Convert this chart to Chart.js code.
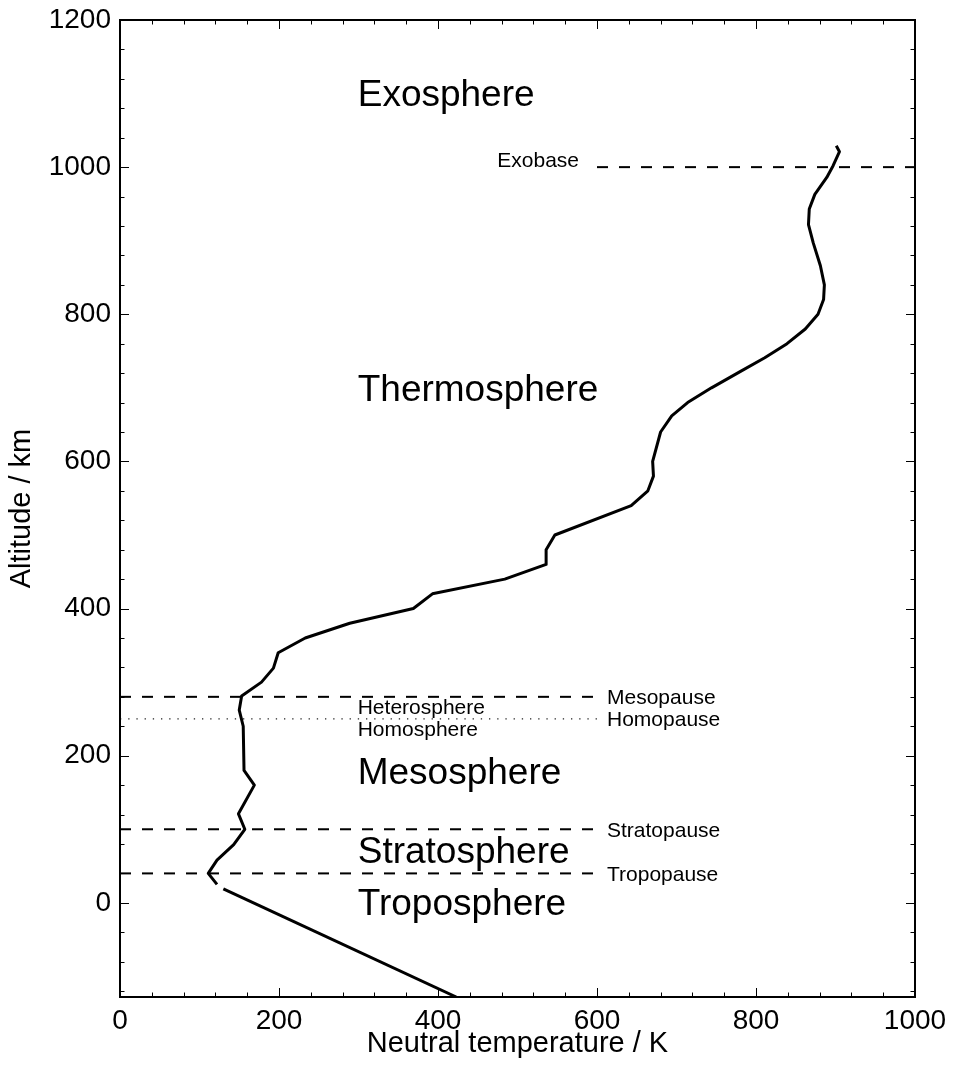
<!DOCTYPE html>
<html>
<head>
<meta charset="utf-8">
<title>Neutral temperature profile</title>
<script src="https://cdn.jsdelivr.net/npm/chart.js@4/dist/chart.umd.min.js"></script>
<style>
  html, body { margin: 0; padding: 0; background: #ffffff; }
  #wrap { width: 953px; height: 1066px; position: relative; }
</style>
</head>
<body>
<div id="wrap"><canvas id="chart" width="953" height="1066"></canvas></div>
<script>
// Temperature profile above the lower atmosphere (K, km)
const profileTemp = [122, 111, 122, 143, 157, 149, 169, 156, 155, 150, 153, 178, 193, 199, 233, 289, 369, 393, 484, 536, 536, 547, 643, 664, 671, 670, 680, 694, 714, 744, 780, 811, 839, 862, 878, 885, 886, 881, 872, 866, 867, 874, 889, 897, 905, 901];
const profileAlt  = [25, 40, 58, 79, 100, 121, 160, 180, 240, 262, 281, 300, 319, 340, 360, 380, 400, 420, 440, 460, 480, 500, 540, 560, 580, 600, 640, 662, 680, 700, 722, 741, 760, 780, 800, 820, 840, 866, 897, 922, 943, 963, 986, 1002, 1021, 1029];

// Tropospheric lapse-rate segment (K, km)
const troposphereTemp = [130, 423];
const troposphereAlt  = [19, -128];

// Named boundaries: altitude and temperature extent of each marker line
const boundaryNames = ['Exobase', 'Mesopause', 'Homopause', 'Stratopause', 'Tropopause'];
const boundaryAlt   = [1000, 280, 250, 100, 40];
const boundaryFrom  = [600, 0, 0, 0, 0];
const boundaryTo    = [1000, 600, 600, 600, 600];

// Region names
const layerNames = ['Exosphere', 'Thermosphere', 'Mesosphere', 'Stratosphere', 'Troposphere'];
const sphereNames = ['Heterosphere', 'Homosphere'];

// Axis tick values
const tempTicks = [0, 200, 400, 600, 800, 1000];
const altTicks  = [0, 200, 400, 600, 800, 1000, 1200];

const FONT = '"Liberation Sans", Arial, Helvetica, sans-serif';
Chart.defaults.font.family = FONT;
Chart.defaults.color = '#000';

const toPoints = (xs, ys) => xs.map((x, i) => ({ x: x, y: ys[i] }));

// Text placement (data coordinates of the text anchor)
const layerPlacement = {
  Exosphere:    { x: 299, y: 1083 },
  Thermosphere: { x: 299, y: 682 },
  Mesosphere:   { x: 299, y: 162 },
  Stratosphere: { x: 299, y: 54 },
  Troposphere:  { x: 299, y: -16 }
};
const spherePlacement = {
  Heterosphere: { x: 299, y: 257 },
  Homosphere:   { x: 299, y: 227 }
};

const boundaryStyle = {
  Exobase:     { dash: [11, 11], width: 2, color: '#000' },
  Mesopause:   { dash: [11, 11], width: 2, color: '#000' },
  Homopause:   { dash: [1.3, 6.9], width: 1.3, color: '#222' },
  Stratopause: { dash: [11, 11], width: 2, color: '#000' },
  Tropopause:  { dash: [11, 11], width: 2, color: '#000' }
};

const datasets = [
  {
    label: 'profile',
    data: toPoints(profileTemp, profileAlt),
    borderColor: '#000', borderWidth: 3, pointRadius: 0, tension: 0,
    borderJoinStyle: 'round', borderCapStyle: 'butt'
  },
  {
    label: 'troposphere',
    data: toPoints(troposphereTemp, troposphereAlt),
    borderColor: '#000', borderWidth: 3, pointRadius: 0, tension: 0
  }
];
boundaryNames.forEach((name, i) => {
  const st = boundaryStyle[name];
  datasets.push({
    label: name,
    data: [{ x: boundaryFrom[i], y: boundaryAlt[i] }, { x: boundaryTo[i], y: boundaryAlt[i] }],
    borderColor: st.color, borderWidth: st.width, borderDash: st.dash,
    pointRadius: 0, tension: 0
  });
});

// Frame with inward major/minor ticks on all four sides, and region labels
const framePlugin = {
  id: 'frame',
  afterDatasetsDraw(chart) {
    const { ctx, chartArea: a, scales: { x, y } } = chart;
    ctx.save();
    ctx.strokeStyle = '#000';
    ctx.lineWidth = 1;
    ctx.beginPath();
    for (let v = -120; v <= 1200; v += 40) {
      const py = Math.round(y.getPixelForValue(v)) + 0.5;
      const len = (v % 200 === 0) ? 9 : 4.5;
      ctx.moveTo(a.left, py); ctx.lineTo(a.left + len, py);
      ctx.moveTo(a.right, py); ctx.lineTo(a.right - len, py);
    }
    for (let v = 40; v < 1000; v += 40) {
      const px = Math.round(x.getPixelForValue(v)) + 0.5;
      const len = (v % 200 === 0) ? 9 : 4.5;
      ctx.moveTo(px, a.bottom); ctx.lineTo(px, a.bottom - len);
      ctx.moveTo(px, a.top); ctx.lineTo(px, a.top + len);
    }
    ctx.stroke();
    ctx.lineWidth = 2;
    ctx.strokeRect(a.left, a.top, a.right - a.left, a.bottom - a.top);

    ctx.fillStyle = '#000';
    ctx.textAlign = 'left';
    ctx.textBaseline = 'alphabetic';
    ctx.font = '37px ' + FONT;
    layerNames.forEach(n => {
      const p = layerPlacement[n];
      ctx.fillText(n, x.getPixelForValue(p.x), y.getPixelForValue(p.y));
    });
    ctx.font = '21px ' + FONT;
    sphereNames.forEach(n => {
      const p = spherePlacement[n];
      ctx.fillText(n, x.getPixelForValue(p.x), y.getPixelForValue(p.y));
    });
    boundaryNames.forEach((n, i) => {
      if (n === 'Exobase') {
        ctx.textAlign = 'right';
        ctx.fillText(n, x.getPixelForValue(boundaryFrom[i]) - 18, y.getPixelForValue(boundaryAlt[i]));
      } else {
        ctx.textAlign = 'left';
        ctx.fillText(n, x.getPixelForValue(boundaryTo[i]) + 10, y.getPixelForValue(boundaryAlt[i]) + 7.5);
      }
    });
    ctx.restore();
  }
};

const plainNumber = v => String(v);

new Chart(document.getElementById('chart'), {
  type: 'line',
  data: { datasets },
  options: {
    responsive: false,
    animation: false,
    events: [],
    layout: { padding: { top: 20, right: 38, left: 0, bottom: 0 } },
    plugins: { legend: { display: false }, tooltip: { enabled: false } },
    scales: {
      x: {
        type: 'linear', min: 0, max: 1000,
        afterBuildTicks: s => { s.ticks = tempTicks.map(v => ({ value: v })); },
        afterFit: s => { s.height = 69; s.paddingLeft = 0; s.paddingRight = 0; },
        ticks: { font: { size: 28 }, color: '#000', padding: 7, maxRotation: 0, callback: plainNumber },
        grid: { drawOnChartArea: false, drawTicks: false },
        border: { display: false },
        title: { display: true, text: 'Neutral temperature / K', font: { size: 29 }, color: '#000', padding: { top: 0, bottom: 5 } }
      },
      y: {
        type: 'linear', min: -128, max: 1200,
        afterBuildTicks: s => { s.ticks = altTicks.map(v => ({ value: v })); },
        afterFit: s => { s.width = 120; s.paddingTop = 0; s.paddingBottom = 0; },
        ticks: { font: { size: 28 }, color: '#000', padding: 9, callback: plainNumber },
        grid: { drawOnChartArea: false, drawTicks: false },
        border: { display: false },
        title: { display: true, text: 'Altitude / km', font: { size: 29 }, color: '#000', padding: { top: 5, bottom: 0 } }
      }
    }
  },
  plugins: [framePlugin]
});
</script>
</body>
</html>
